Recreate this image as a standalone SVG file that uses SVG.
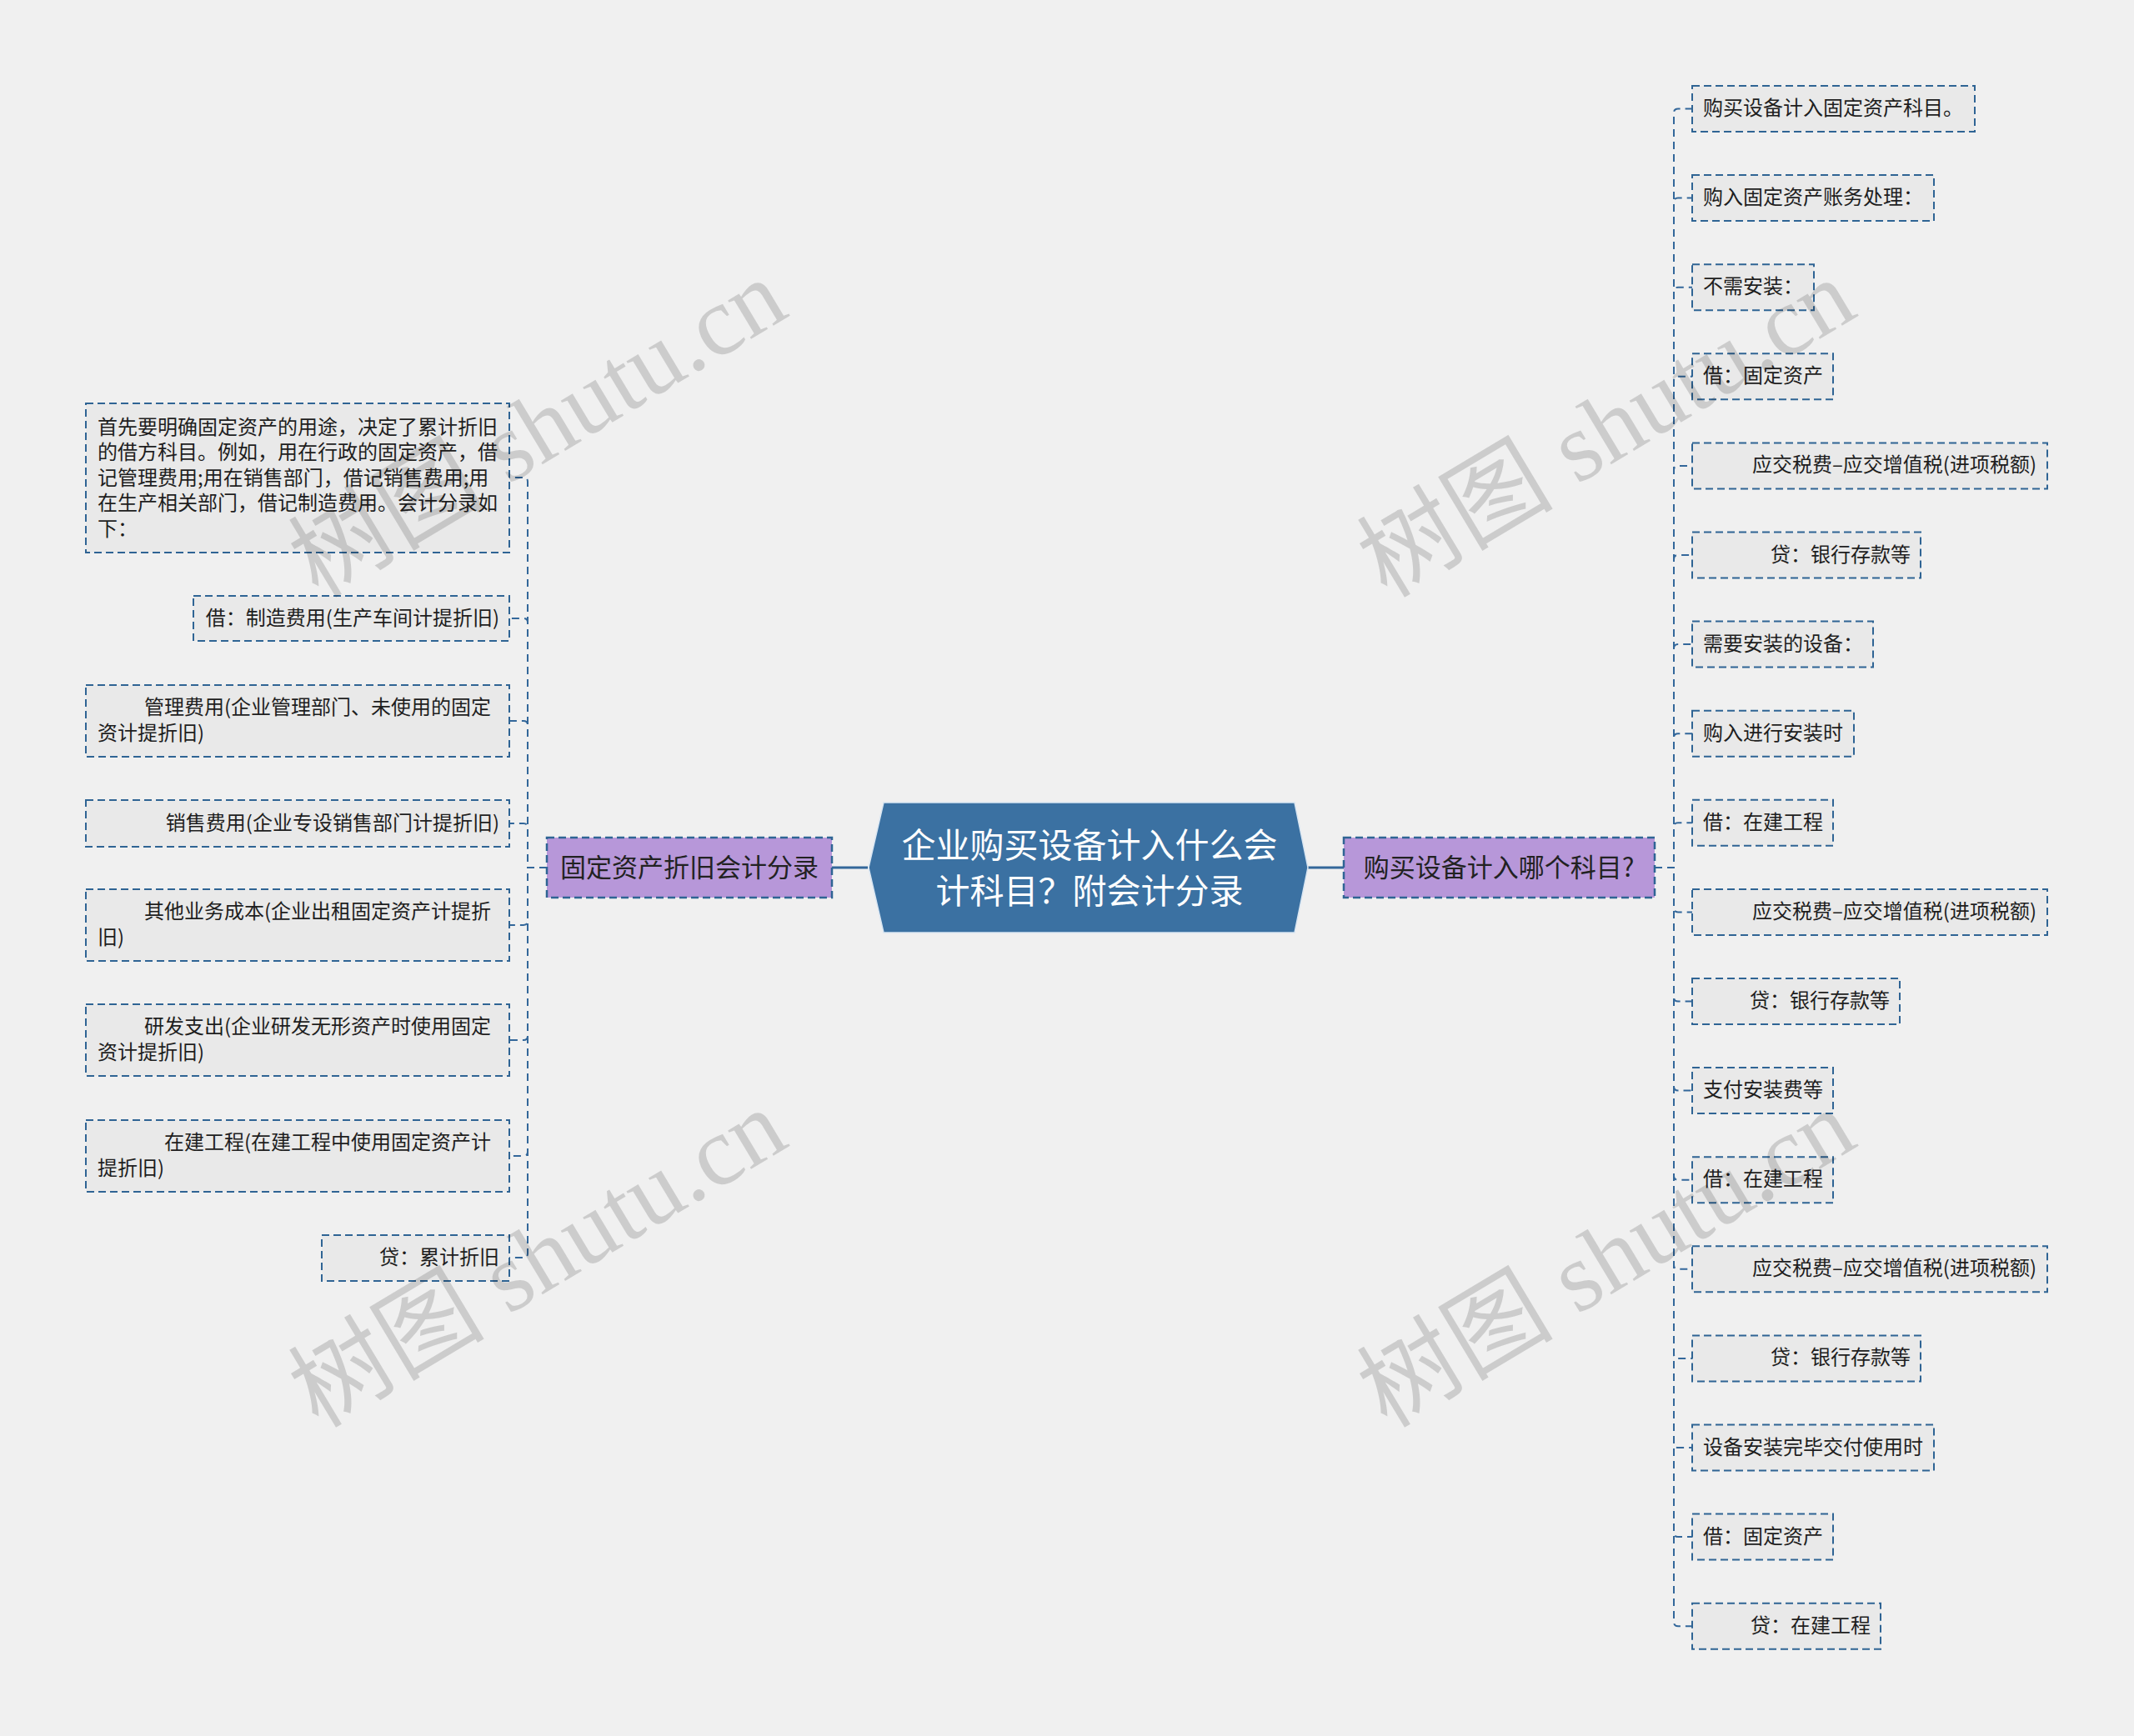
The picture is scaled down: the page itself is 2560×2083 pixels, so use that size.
<svg xmlns="http://www.w3.org/2000/svg" width="2560" height="2083" viewBox="0 0 2560 2083">
<style>
.bg{fill:#f0f0f0}
.box{fill:#e9e9e9;stroke:#2f6494;stroke-width:2;stroke-dasharray:9 5}
.mbox{fill:#b797d9;stroke:#2f6494;stroke-width:2.5;stroke-dasharray:9 5}
.t{font-family:"Noto Sans CJK SC","Noto Sans",sans-serif;font-size:24px;fill:#1e1e1e;dominant-baseline:central}
.e{text-anchor:end}
.mt{font-family:"Noto Sans CJK SC","Noto Sans",sans-serif;font-size:31px;fill:#222;dominant-baseline:central;text-anchor:middle}
.ct{font-family:"Noto Sans CJK SC","Noto Sans",sans-serif;font-size:41px;fill:#ffffff;dominant-baseline:central;text-anchor:middle}
.conn path{fill:none;stroke:#33679a;stroke-width:2;stroke-dasharray:9 6}
.conn .solid{stroke-dasharray:none;stroke-width:3}
.wm{font-family:"Liberation Serif","Noto Sans CJK SC",serif;font-size:118px;fill:#000;fill-opacity:0.15;text-anchor:middle}
</style>
<rect class="bg" x="0" y="0" width="2560" height="2083"/>

<g id="connectors" class="conn">
<path class="solid" d="M1041,1041 H998"/>
<path class="solid" d="M1569,1041 H1612"/>
<path d="M656,1041 H633 V578 Q633,573 628,573 H611"/>
<path d="M656,1041 H633 V747 Q633,742 628,742 H611"/>
<path d="M656,1041 H633 V870 Q633,865 628,865 H611"/>
<path d="M656,1041 H633 V993 Q633,988 628,988 H611"/>
<path d="M656,1041 H633 V1105 Q633,1110 628,1110 H611"/>
<path d="M656,1041 H633 V1243 Q633,1248 628,1248 H611"/>
<path d="M656,1041 H633 V1382 Q633,1387 628,1387 H611"/>
<path d="M656,1041 H633 V1504 Q633,1509 628,1509 H611"/>
<path d="M1985,1041 H2008 V135.5 Q2008,130.5 2013,130.5 H2030"/>
<path d="M1985,1041 H2008 V242.6 Q2008,237.6 2013,237.6 H2030"/>
<path d="M1985,1041 H2008 V349.7 Q2008,344.7 2013,344.7 H2030"/>
<path d="M1985,1041 H2008 V456.8 Q2008,451.8 2013,451.8 H2030"/>
<path d="M1985,1041 H2008 V563.9 Q2008,558.9 2013,558.9 H2030"/>
<path d="M1985,1041 H2008 V671 Q2008,666 2013,666 H2030"/>
<path d="M1985,1041 H2008 V778.1 Q2008,773.1 2013,773.1 H2030"/>
<path d="M1985,1041 H2008 V885.2 Q2008,880.2 2013,880.2 H2030"/>
<path d="M1985,1041 H2008 V992.3 Q2008,987.3 2013,987.3 H2030"/>
<path d="M1985,1041 H2008 V1089.4 Q2008,1094.4 2013,1094.4 H2030"/>
<path d="M1985,1041 H2008 V1196.5 Q2008,1201.5 2013,1201.5 H2030"/>
<path d="M1985,1041 H2008 V1303.6 Q2008,1308.6 2013,1308.6 H2030"/>
<path d="M1985,1041 H2008 V1410.7 Q2008,1415.7 2013,1415.7 H2030"/>
<path d="M1985,1041 H2008 V1517.8 Q2008,1522.8 2013,1522.8 H2030"/>
<path d="M1985,1041 H2008 V1624.9 Q2008,1629.9 2013,1629.9 H2030"/>
<path d="M1985,1041 H2008 V1732 Q2008,1737 2013,1737 H2030"/>
<path d="M1985,1041 H2008 V1839.1 Q2008,1844.1 2013,1844.1 H2030"/>
<path d="M1985,1041 H2008 V1946.2 Q2008,1951.2 2013,1951.2 H2030"/>
</g>

<g id="center">
<polygon points="1060,963 1553,963 1569,1041 1553,1119 1060,1119 1042,1041" fill="#3b71a2" stroke="#d9e6f2" stroke-width="1.5"/>
<text class="ct" x="1307" y="1011">企业购买设备计入什么会</text>
<text class="ct" x="1307" y="1066">计科目？附会计分录</text>
</g>

<g id="main-left">
<rect class="mbox" x="656" y="1005" width="342" height="72"/>
<text class="mt" x="827" y="1038">固定资产折旧会计分录</text>
</g>
<g id="main-right">
<rect class="mbox" x="1612" y="1005" width="373" height="72"/>
<text class="mt" x="1798" y="1038">购买设备计入哪个科目?</text>
</g>

<g id="l1">
<rect class="box" x="103" y="484" width="508" height="179"/>
<text class="t" x="117" y="510">首先要明确固定资产的用途，决定了累计折旧</text>
<text class="t" x="117" y="540.5">的借方科目。例如，用在行政的固定资产，借</text>
<text class="t" x="117" y="571">记管理费用;用在销售部门，借记销售费用;用</text>
<text class="t" x="117" y="601.5">在生产相关部门，借记制造费用。会计分录如</text>
<text class="t" x="117" y="632">下：</text>
</g>
<g id="l2">
<rect class="box" x="232" y="715" width="379" height="54"/>
<text class="t e" x="599" y="739">借：制造费用(生产车间计提折旧)</text>
</g>
<g id="l3">
<rect class="box" x="103" y="822" width="508" height="86"/>
<text class="t" x="173" y="846.5">管理费用(企业管理部门、未使用的固定</text>
<text class="t" x="117" y="877.5">资计提折旧)</text>
</g>
<g id="l4">
<rect class="box" x="103" y="960" width="508" height="56"/>
<text class="t e" x="599" y="985">销售费用(企业专设销售部门计提折旧)</text>
</g>
<g id="l5">
<rect class="box" x="103" y="1067" width="508" height="86"/>
<text class="t" x="173" y="1091.5">其他业务成本(企业出租固定资产计提折</text>
<text class="t" x="117" y="1122.5">旧)</text>
</g>
<g id="l6">
<rect class="box" x="103" y="1205" width="508" height="86"/>
<text class="t" x="173" y="1229.5">研发支出(企业研发无形资产时使用固定</text>
<text class="t" x="117" y="1260.5">资计提折旧)</text>
</g>
<g id="l7">
<rect class="box" x="103" y="1344" width="508" height="86"/>
<text class="t" x="197" y="1368.5">在建工程(在建工程中使用固定资产计</text>
<text class="t" x="117" y="1399.5">提折旧)</text>
</g>
<g id="l8">
<rect class="box" x="386" y="1482" width="225" height="55"/>
<text class="t e" x="599" y="1506.5">贷：累计折旧</text>
</g>

<g id="r1"><rect class="box" x="2030" y="103" width="339" height="55"/><text class="t" x="2043" y="127.5">购买设备计入固定资产科目。</text></g>
<g id="r2"><rect class="box" x="2030" y="210.1" width="290" height="55"/><text class="t" x="2043" y="234.6">购入固定资产账务处理：</text></g>
<g id="r3"><rect class="box" x="2030" y="317.2" width="146" height="55"/><text class="t" x="2043" y="341.7">不需安装：</text></g>
<g id="r4"><rect class="box" x="2030" y="424.3" width="169" height="55"/><text class="t" x="2043" y="448.8">借：固定资产</text></g>
<g id="r5"><rect class="box" x="2030" y="531.4" width="426" height="55"/><text class="t e" x="2443" y="555.9">应交税费–应交增值税(进项税额)</text></g>
<g id="r6"><rect class="box" x="2030" y="638.5" width="274" height="55"/><text class="t e" x="2292" y="663">贷：银行存款等</text></g>
<g id="r7"><rect class="box" x="2030" y="745.6" width="217" height="55"/><text class="t" x="2043" y="770.1">需要安装的设备：</text></g>
<g id="r8"><rect class="box" x="2030" y="852.7" width="194" height="55"/><text class="t" x="2043" y="877.2">购入进行安装时</text></g>
<g id="r9"><rect class="box" x="2030" y="959.8" width="169" height="55"/><text class="t" x="2043" y="984.3">借：在建工程</text></g>
<g id="r10"><rect class="box" x="2030" y="1066.9" width="426" height="55"/><text class="t e" x="2443" y="1091.4">应交税费–应交增值税(进项税额)</text></g>
<g id="r11"><rect class="box" x="2030" y="1174" width="249" height="55"/><text class="t e" x="2267" y="1198.5">贷：银行存款等</text></g>
<g id="r12"><rect class="box" x="2030" y="1281.1" width="169" height="55"/><text class="t" x="2043" y="1305.6">支付安装费等</text></g>
<g id="r13"><rect class="box" x="2030" y="1388.2" width="169" height="55"/><text class="t" x="2043" y="1412.7">借：在建工程</text></g>
<g id="r14"><rect class="box" x="2030" y="1495.3" width="426" height="55"/><text class="t e" x="2443" y="1519.8">应交税费–应交增值税(进项税额)</text></g>
<g id="r15"><rect class="box" x="2030" y="1602.4" width="274" height="55"/><text class="t e" x="2292" y="1626.9">贷：银行存款等</text></g>
<g id="r16"><rect class="box" x="2030" y="1709.5" width="290" height="55"/><text class="t" x="2043" y="1734">设备安装完毕交付使用时</text></g>
<g id="r17"><rect class="box" x="2030" y="1816.6" width="169" height="55"/><text class="t" x="2043" y="1841.1">借：固定资产</text></g>
<g id="r18"><rect class="box" x="2030" y="1923.7" width="226" height="55"/><text class="t e" x="2244" y="1948.2">贷：在建工程</text></g>

<g id="watermarks">
<text class="wm" transform="translate(645,514) rotate(-31)" x="0" y="40">树图 shutu.cn</text>
<text class="wm" transform="translate(1927,514) rotate(-31)" x="0" y="40">树图 shutu.cn</text>
<text class="wm" transform="translate(645,1510) rotate(-31)" x="0" y="40">树图 shutu.cn</text>
<text class="wm" transform="translate(1927,1510) rotate(-31)" x="0" y="40">树图 shutu.cn</text>
</g>
</svg>
